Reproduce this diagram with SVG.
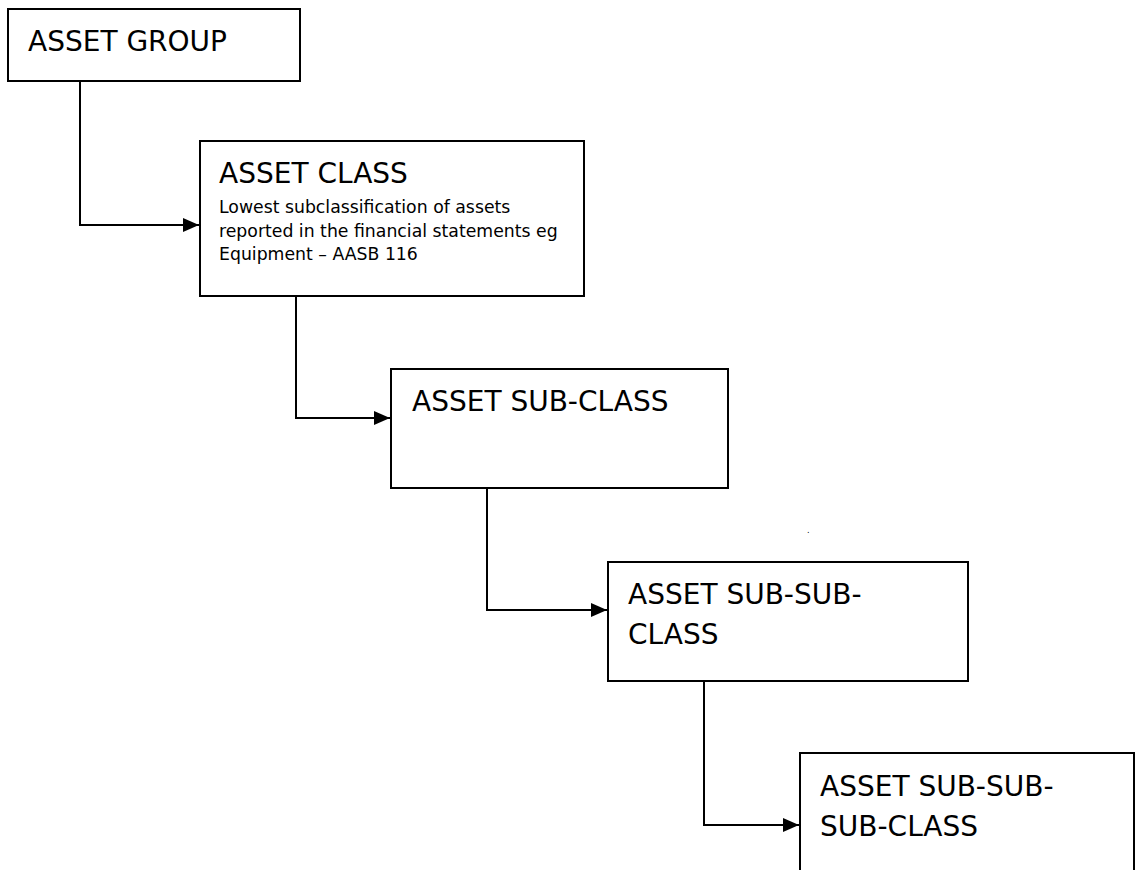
<svg xmlns="http://www.w3.org/2000/svg" width="1136" height="870" viewBox="0 0 1136 870">
<defs>
<style>
.box{fill:#fff;stroke:#000;stroke-width:2}
.t{font-family:"DejaVu Sans",Tahoma,sans-serif;font-size:28px;fill:#000}
.s{font-family:"DejaVu Sans",Tahoma,sans-serif;font-size:17.3px;fill:#000}
.c{fill:none;stroke:#000;stroke-width:2}
</style>
<marker id="ah" markerWidth="16" markerHeight="14" refX="16" refY="7" orient="auto" markerUnits="userSpaceOnUse">
<path d="M0,0 L16,7 L0,14 Z" fill="#000"/>
</marker>
</defs>
<rect width="1136" height="870" fill="#fff"/>
<g id="connectors">
<polyline class="c" points="80,81 80,225 199,225" marker-end="url(#ah)"/>
<polyline class="c" points="296,296 296,418 390,418" marker-end="url(#ah)"/>
<polyline class="c" points="487,488 487,610 607,610" marker-end="url(#ah)"/>
<polyline class="c" points="704,681 704,825 799,825" marker-end="url(#ah)"/>
</g>
<g id="asset-group">
<rect class="box" x="8" y="9" width="292" height="72"/>
<text class="t" x="28" y="51">ASSET GROUP</text>
</g>
<g id="asset-class">
<rect class="box" x="200" y="141" width="384" height="155"/>
<text class="t" x="219" y="183">ASSET CLASS</text>
<text class="s" x="219" y="213">Lowest subclassification of assets</text>
<text class="s" x="219" y="237">reported in the financial statements eg</text>
<text class="s" x="219" y="260">Equipment – AASB 116</text>
</g>
<g id="asset-sub-class">
<rect class="box" x="391" y="369" width="337" height="119"/>
<text class="t" x="412" y="411">ASSET SUB-CLASS</text>
</g>
<g id="asset-sub-sub-class">
<rect class="box" x="608" y="562" width="360" height="119"/>
<text class="t" x="628" y="604">ASSET SUB-SUB-</text>
<text class="t" x="628" y="644">CLASS</text>
</g>
<g id="asset-sub-sub-sub-class">
<rect class="box" x="800" y="753" width="334" height="140"/>
<text class="t" x="820" y="796">ASSET SUB-SUB-</text>
<text class="t" x="820" y="836">SUB-CLASS</text>
</g>
<text x="807" y="533" style="font-family:'DejaVu Sans',sans-serif;font-size:8px">.</text>
</svg>
